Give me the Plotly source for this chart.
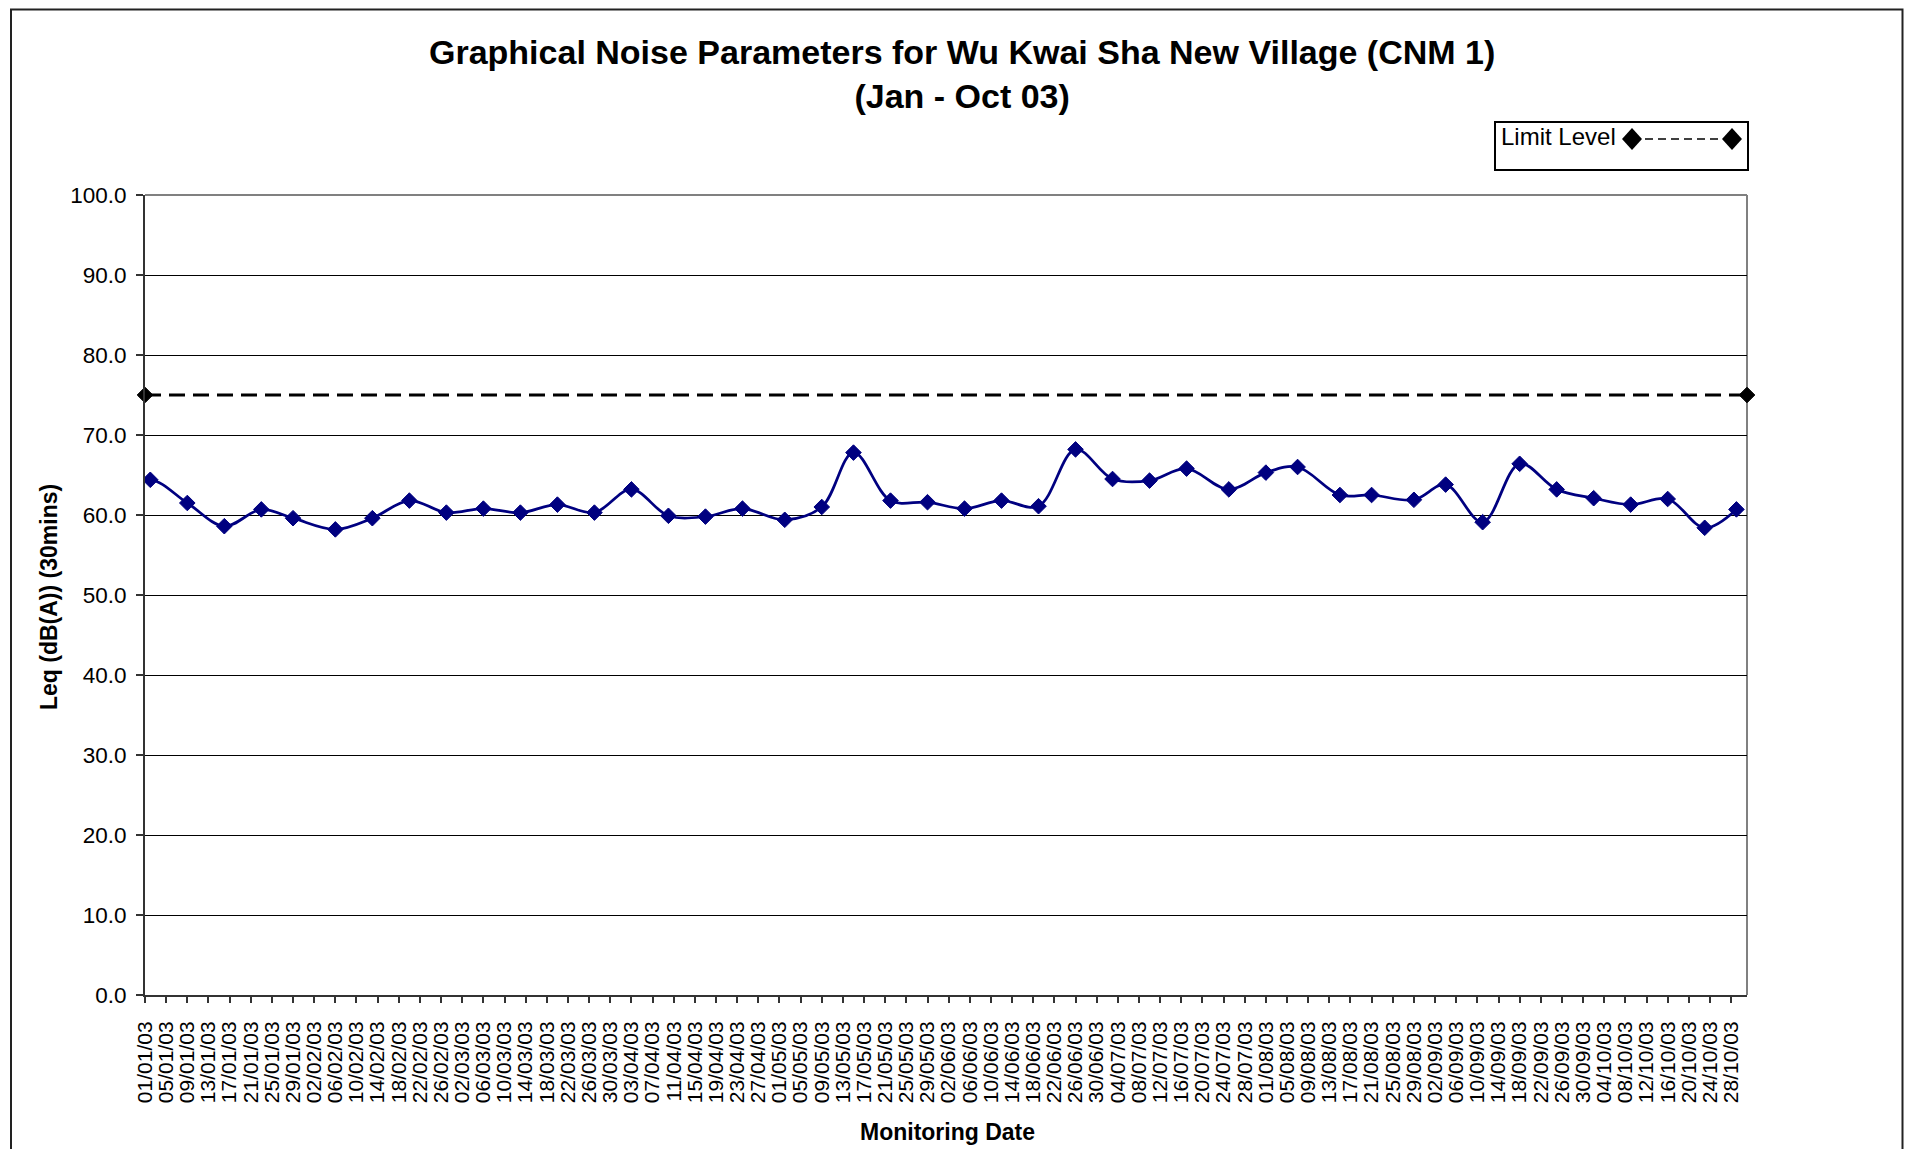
import plotly.graph_objects as go

# ---------------- data ----------------
dates = [
    "2002-12-26",
    "2003-01-02", "2003-01-09", "2003-01-16", "2003-01-23", "2003-01-29",
    "2003-02-06", "2003-02-13", "2003-02-20", "2003-02-27",
    "2003-03-06", "2003-03-13", "2003-03-20", "2003-03-27",
    "2003-04-03", "2003-04-10", "2003-04-17", "2003-04-24",
    "2003-05-02", "2003-05-09", "2003-05-15", "2003-05-22", "2003-05-29",
    "2003-06-05", "2003-06-12", "2003-06-19", "2003-06-26",
    "2003-07-03", "2003-07-10", "2003-07-17", "2003-07-25",
    "2003-08-01", "2003-08-07", "2003-08-15", "2003-08-21", "2003-08-29",
    "2003-09-04", "2003-09-11", "2003-09-18", "2003-09-25",
    "2003-10-02", "2003-10-09", "2003-10-16", "2003-10-23", "2003-10-29",
]
leq = [
    62.5,
    64.4, 61.5, 58.6, 60.7, 59.6,
    58.2, 59.6, 61.8, 60.3,
    60.8, 60.3, 61.3, 60.3,
    63.2, 59.9, 59.8, 60.8,
    59.4, 61.0, 67.8, 61.8, 61.6,
    60.8, 61.8, 61.1, 68.2,
    64.5, 64.3, 65.8, 63.2,
    65.3, 66.0, 62.5, 62.5, 61.9,
    63.8, 59.1, 66.4, 63.2,
    62.1, 61.3, 62.0, 58.4, 60.7,
]
limit_dates = ["2003-01-01", "2003-10-31"]
limit_values = [75, 75]
x_range = ["2003-01-01", "2003-10-31"]
x_tick_start = "2003-01-01"
x_tick_days = 4
y_range = [0, 100]
y_tick_step = 10

title_lines = ["Graphical Noise Parameters for Wu Kwai Sha New Village (CNM 1)",
               "(Jan - Oct 03)"]
y_title = "Leq (dB(A)) (30mins)"
x_title = "Monitoring Date"
legend_label = "Limit Level"

# ---------------- geometry (page pixels) ----------------
OX, OY = 8, 8            # page offset of the figure (body margin)
FW, FH = 1896, 1141      # figure size inside the page
PL, PR, PT, PB = 145, 1747, 195, 995   # plot area in page pixels
FONT = "Liberation Sans, Arial, sans-serif"


def fx(x):
    return (x - PL) / (PR - PL)


def fy(y):
    return (PB - y) / (PB - PT)


fig = go.Figure()
fig.add_trace(go.Scatter(
    x=dates, y=leq, mode="lines+markers", name="Leq",
    line=dict(color="#000080", width=2.75, shape="spline", smoothing=1),
    marker=dict(symbol="diamond", size=12, color="#000080",
                line=dict(color="#000080", width=1)),
    showlegend=False,
))
fig.add_trace(go.Scatter(
    x=limit_dates, y=limit_values, mode="lines+markers", name=legend_label,
    line=dict(color="black", width=3, dash="16px,8px"),
    marker=dict(symbol="diamond", size=12, color="black",
                line=dict(color="black", width=1)),
    cliponaxis=False, showlegend=False,
))

shapes = [
    # plot-area border (top, right)
    dict(type="line", xref="paper", yref="paper", x0=0, x1=1, y0=1, y1=1,
         line=dict(color="#808080", width=2), layer="between"),
    dict(type="line", xref="paper", yref="paper", x0=1, x1=1, y0=0, y1=1,
         line=dict(color="#808080", width=2), layer="between"),
    # outer chart border
    dict(type="rect", xref="paper", yref="paper",
         x0=fx(11), x1=fx(OX + FW - 1.5), y0=fy(OY + FH + 10), y1=fy(OY + 1.5),
         line=dict(color="#222222", width=2), layer="above"),
    # legend box
    dict(type="rect", xref="paper", yref="paper",
         x0=fx(1495), x1=fx(1748), y0=fy(170), y1=fy(122),
         line=dict(color="black", width=2), fillcolor="white", layer="above"),
    dict(type="line", xref="paper", yref="paper",
         x0=fx(1632), x1=fx(1732), y0=fy(139), y1=fy(139),
         line=dict(color="black", width=1.5, dash="8px,5px"), layer="above"),
]
for cx in (1632, 1732):
    shapes.append(dict(
        type="path", xref="paper", yref="paper",
        xsizemode="pixel", ysizemode="pixel",
        xanchor=fx(cx), yanchor=fy(139),
        path="M -10,0 L 0,11 L 10,0 L 0,-11 Z",
        fillcolor="black", line=dict(color="black", width=0), layer="above",
    ))

annotations = [
    dict(text="<br>".join("<b>" + t + "</b>" for t in title_lines),
         xref="paper", yref="paper", x=fx(962), y=fy(74),
         xanchor="center", yanchor="middle", showarrow=False,
         font=dict(family=FONT, size=34, color="black")),
    dict(text="<b>" + y_title + "</b>", xref="paper", yref="paper",
         x=fx(49), y=fy(597), textangle=-90, xanchor="center", yanchor="middle",
         showarrow=False, font=dict(family=FONT, size=23, color="black")),
    dict(text="<b>" + x_title + "</b>", xref="paper", yref="paper",
         x=fx(947), y=fy(1147), xanchor="center", yanchor="bottom",
         showarrow=False, font=dict(family=FONT, size=23, color="black")),
    dict(text=legend_label, xref="paper", yref="paper",
         x=fx(1499), y=fy(136), xanchor="left", yanchor="middle",
         showarrow=False, font=dict(family=FONT, size=24, color="black")),
]

fig.update_layout(
    margin=dict(l=PL - OX, r=OX + FW - PR, t=PT - OY, b=OY + FH - PB, pad=0),
    paper_bgcolor="white", plot_bgcolor="white",
    font=dict(family=FONT, color="black"),
    shapes=shapes, annotations=annotations,
    showlegend=False,
    xaxis=dict(
        type="date", range=x_range, tick0=x_tick_start,
        dtick=x_tick_days * 86400000, tickformat="%d/%m/%y", tickangle=-90,
        ticks="outside", ticklen=6, tickwidth=1.5, tickcolor="#333333",
        showline=True, linecolor="#333333", linewidth=2,
        showgrid=False, zeroline=False,
        tickfont=dict(family=FONT, size=21, color="black"),
        ticklabelstandoff=10, fixedrange=True,
    ),
    yaxis=dict(
        range=y_range, dtick=y_tick_step, tick0=0, tickformat=".1f",
        ticks="outside", ticklen=7, tickwidth=1.5, tickcolor="#333333",
        showline=True, linecolor="#333333", linewidth=2,
        showgrid=True, gridcolor="black", gridwidth=1, zeroline=False,
        tickfont=dict(family=FONT, size=22.5, color="black"),
        ticklabelstandoff=5, fixedrange=True,
    ),
)

fig.write_html("out.html")
